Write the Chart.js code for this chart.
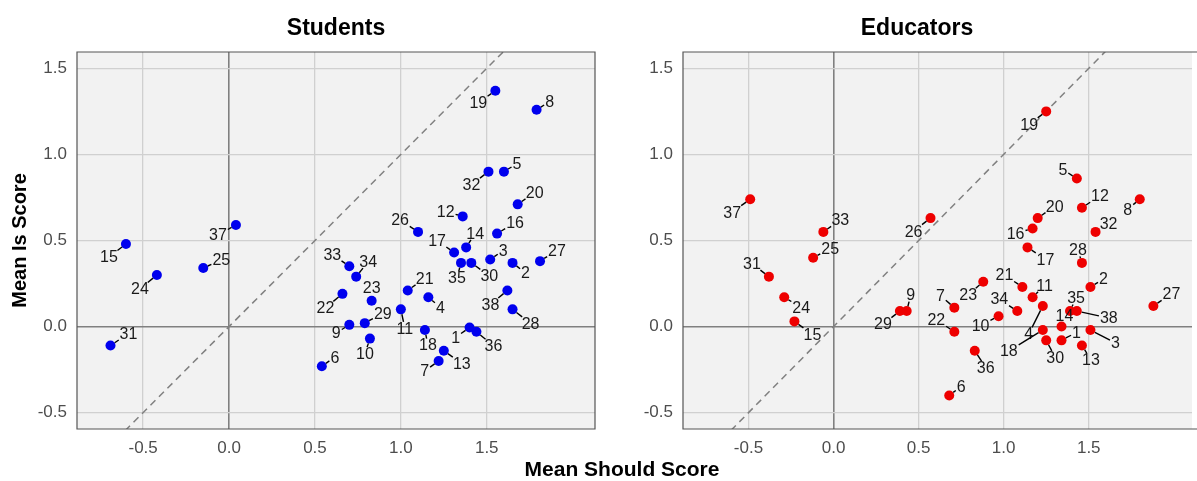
<!DOCTYPE html>
<html lang="en">
<head>
<meta charset="UTF-8">
<title>Mean Should Score vs Mean Is Score</title>
<script src="https://cdn.jsdelivr.net/npm/chart.js"></script>
<style>
  html, body { margin: 0; padding: 0; }
  body {
    width: 1197px;
    height: 481px;
    overflow: hidden;
    position: relative;
    background: #fff;
    font-family: "Liberation Sans", Arial, sans-serif;
  }
  .panel { position: absolute; top: 0; height: 481px; overflow: hidden; }
  #leftPanel { left: 0; width: 600px; }
  #rightPanel { left: 600px; width: 597px; }
  .facet-title {
    position: absolute;
    top: 14px;
    width: 300px;
    text-align: center;
    font-size: 23px;
    line-height: 26px;
    font-weight: bold;
    color: #000;
  }
  #xTitle {
    position: absolute;
    left: 422px;
    top: 457px;
    width: 400px;
    text-align: center;
    font-size: 21px;
    line-height: 24px;
    font-weight: bold;
    color: #000;
  }
</style>
</head>
<body>
  <div class="panel" id="leftPanel"><canvas id="studentsChart" width="600" height="481"></canvas></div>
  <div class="panel" id="rightPanel"><canvas id="educatorsChart" width="597" height="481"></canvas></div>
  <div class="facet-title" style="left:186px">Students</div>
  <div class="facet-title" style="left:767px">Educators</div>
  <div id="xTitle">Mean Should Score</div>

<script>
// item numbers 1..38
const items = ['1','2','3','4','5','6','7','8','9','10','11','12','13','14','15','16','17','18','19',
               '20','21','22','23','24','25','26','27','28','29','30','31','32','33','34','35','36','37','38'];

const studentShould = [1.40, 1.65, 1.52, 1.16, 1.60, 0.54, 1.22, 1.79, 0.70, 0.82, 1.00, 1.36, 1.25, 1.38, -0.60, 1.56, 1.31, 1.14, 1.55,
                       1.68, 1.04, 0.66, 0.83, -0.42, -0.15, 1.10, 1.81, 1.65, 0.79, 1.41, -0.69, 1.51, 0.70, 0.74, 1.35, 1.44, 0.04, 1.62];
const studentIs     = [-0.005, 0.37, 0.39, 0.17, 0.90, -0.23, -0.20, 1.26, 0.01, -0.07, 0.10, 0.64, -0.14, 0.46, 0.48, 0.54, 0.43, -0.02, 1.37,
                       0.71, 0.21, 0.19, 0.15, 0.30, 0.34, 0.55, 0.38, 0.10, 0.02, 0.37, -0.11, 0.90, 0.35, 0.29, 0.37, -0.03, 0.59, 0.21];

const educatorShould = [1.34, 1.51, 1.51, 1.23, 1.43, 0.68, 0.71, 1.80, 0.43, 0.97, 1.17, 1.46, 1.46, 1.34, -0.23, 1.17, 1.14, 1.23, 1.25,
                        1.20, 1.11, 0.71, 0.88, -0.29, -0.12, 0.57, 1.88, 1.46, 0.39, 1.25, -0.38, 1.54, -0.06, 1.08, 1.39, 0.83, -0.49, 1.43];
const educatorIs     = [-0.08, 0.23, -0.02, 0.12, 0.86, -0.40, 0.11, 0.74, 0.09, 0.06, 0.17, 0.69, -0.11, 0.00, 0.03, 0.57, 0.46, -0.02, 1.25,
                        0.63, 0.23, -0.03, 0.26, 0.17, 0.40, 0.63, 0.12, 0.37, 0.09, -0.08, 0.29, 0.55, 0.55, 0.09, 0.09, -0.14, 0.74, 0.09];

const xTicks = [-0.5, 0, 0.5, 1, 1.5];
const xTickLabels = ['-0.5', '0.0', '0.5', '1.0', '1.5'];
const yTicks = [-0.5, 0, 0.5, 1, 1.5];
const yTickLabels = ['-0.5', '0.0', '0.5', '1.0', '1.5'];

// label placement (pixel offset of each number from its point)
const studentLabelOffsets = [
  [-14, 10], [13, 10], [13, -9], [12, 10], [13, -8], [13, -9], [-14, 10], [13, -8], [-13, 8], [-5, 15],
  [4, 19], [-17, -5], [18, 13], [9, -14], [-17, 13], [18, -11], [-17, -12], [3, 15], [-17, 12], [17, -12],
  [17, -12], [-17, 14], [0, -13], [-17, 14], [18, -8], [-18, -12], [17, -11], [18, 14], [18, -10], [18, 13],
  [18, -12], [-17, 13], [-17, -12], [12, -15], [-4, 15], [17, 14], [-18, 10], [-17, 14]
];
const educatorLabelOffsets = [
  [15, -8], [13, -8], [25, 13], [-14, 28], [-14, -9], [12, -9], [-14, -12], [-12, 10], [4, -16], [-18, 9],
  [12, -12], [18, -12], [9, 14], [3, -11], [18, 13], [-17, 5], [18, 12], [-34, 21], [-17, 13], [17, -12],
  [-18, -12], [-18, -12], [-15, 13], [17, 10], [17, -9], [-17, 13], [18, -12], [-4, -13], [-17, 13], [9, 17],
  [-17, -13], [13, -8], [17, -12], [-18, -12], [6, -13], [11, 17], [-18, 13], [32, 7]
];

const FONT = '"Liberation Sans", Arial, sans-serif';

const panelPlugin = {
  id: 'panel',
  beforeDraw(chart) {
    const a = chart.chartArea;
    const ctx = chart.ctx;
    ctx.save();
    ctx.fillStyle = '#f2f2f2';
    ctx.fillRect(a.left, a.top, a.width, a.height);
    ctx.restore();
  },
  afterDatasetsDraw(chart, args, opts) {
    const ctx = chart.ctx;
    const meta = chart.getDatasetMeta(0);
    ctx.save();
    ctx.font = '16px ' + FONT;
    ctx.textAlign = 'center';
    ctx.textBaseline = 'middle';
    ctx.strokeStyle = '#000';
    ctx.lineWidth = 1.4;
    ctx.fillStyle = '#1a1a1a';
    meta.data.forEach((pt, i) => {
      const off = opts.offsets[i];
      const lx = pt.x + off[0], ly = pt.y + off[1];
      const text = items[i];
      const hw = ctx.measureText(text).width / 2 + 1, hh = 6.5;
      const vx = pt.x - lx, vy = pt.y - ly;
      const len = Math.hypot(vx, vy);
      const t = Math.min(vx ? hw / Math.abs(vx) : Infinity, vy ? hh / Math.abs(vy) : Infinity);
      const sx = lx + vx * t, sy = ly + vy * t;
      const ex = pt.x - vx / len * 5, ey = pt.y - vy / len * 5;
      if ((ex - sx) * vx + (ey - sy) * vy > len * 1.5) {
        ctx.beginPath();
        ctx.moveTo(sx, sy);
        ctx.lineTo(ex, ey);
        ctx.stroke();
      }
      ctx.fillText(text, lx, ly + 1);
    });
    ctx.restore();
  },
  afterDraw(chart, args, opts) {
    const a = chart.chartArea;
    const ctx = chart.ctx;
    ctx.save();
    ctx.strokeStyle = '#555';
    ctx.lineWidth = 1.2;
    ctx.beginPath();
    if (opts.rightBorder) {
      ctx.rect(a.left, a.top, a.width, a.height);
    } else {
      // panel runs past the picture edge on the right
      ctx.moveTo(a.right + 5, a.top);
      ctx.lineTo(a.left, a.top);
      ctx.lineTo(a.left, a.bottom);
      ctx.lineTo(a.right + 5, a.bottom);
    }
    ctx.stroke();
    ctx.restore();
  }
};

function gridColor(c) {
  return c.tick && c.tick.value === 0 ? '#808080' : '#d0d0d0';
}
function gridWidth(c) {
  return c.tick && c.tick.value === 0 ? 1.6 : 1.3;
}

function makeChart(id, xs, ys, offsets, color, yWidth, showYTitle, padRight, xMax, rightBorder) {
  const points = xs.map((x, i) => ({ x: x, y: ys[i] }));
  return new Chart(document.getElementById(id), {
    type: 'scatter',
    data: {
      datasets: [{
        data: points,
        backgroundColor: color,
        borderColor: color,
        pointRadius: 5,
        pointHoverRadius: 5,
        borderWidth: 0
      }, {
        type: 'line',
        data: [{ x: -1, y: -1 }, { x: 2.5, y: 2.5 }],
        borderColor: '#808080',
        borderWidth: 1.5,
        borderDash: [7, 5],
        pointRadius: 0,
        fill: false
      }]
    },
    options: {
      responsive: false,
      animation: false,
      devicePixelRatio: 1,
      layout: { padding: { top: 52, right: padRight, left: 0, bottom: 0 } },
      plugins: {
        legend: { display: false },
        tooltip: { enabled: false },
        panel: { offsets: offsets, rightBorder: rightBorder }
      },
      scales: {
        x: {
          type: 'linear',
          min: -0.885,
          max: xMax,
          afterBuildTicks: s => { s.ticks = xTicks.map(v => ({ value: v })); },
          afterFit: s => { s.height = 52; },
          grid: { color: gridColor, lineWidth: gridWidth, drawTicks: false },
          border: { display: false },
          ticks: {
            padding: 9,
            color: '#4d4d4d',
            font: { size: 17, family: FONT },
            maxRotation: 0,
            callback: (v, i) => xTickLabels[i]
          }
        },
        y: {
          type: 'linear',
          min: -0.595,
          max: 1.595,
          afterBuildTicks: s => { s.ticks = yTicks.map(v => ({ value: v })); },
          afterFit: s => { s.width = yWidth; },
          grid: { color: gridColor, lineWidth: gridWidth, drawTicks: false },
          border: { display: false },
          title: {
            display: showYTitle,
            text: 'Mean Is Score',
            color: '#000',
            font: { size: 20, weight: 'bold', family: FONT },
            padding: { top: 8, bottom: 0 }
          },
          ticks: {
            padding: 10,
            color: '#4d4d4d',
            font: { size: 17, family: FONT },
            callback: (v, i) => yTickLabels[i]
          }
        }
      }
    },
    plugins: [panelPlugin]
  });
}

makeChart('studentsChart', studentShould, studentIs, studentLabelOffsets, '#0000ee', 77, true, 5, 2.13, true);
// right panel is cut by the picture edge: same px-per-unit over 514 px
makeChart('educatorsChart', educatorShould, educatorIs, educatorLabelOffsets, '#ee0000', 83, false, 0, 2.107, false);
</script>
</body>
</html>
